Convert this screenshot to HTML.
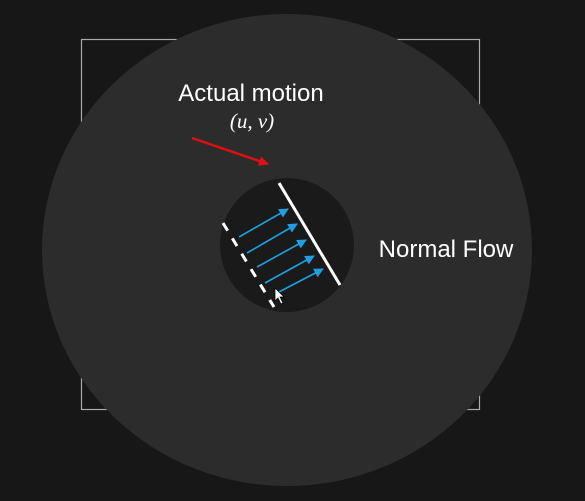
<!DOCTYPE html>
<html><head><meta charset="utf-8"><style>
html,body{margin:0;padding:0;background:#171717;}
svg{display:block;}
</style></head><body>
<svg width="585" height="501" viewBox="0 0 585 501">
<defs>
<marker id="bh" viewBox="0 0 10 10" refX="9" refY="5" markerWidth="7" markerHeight="6" orient="auto" markerUnits="strokeWidth"><path d="M0,0 L10,5 L0,10 z" fill="#1ea0e0"/></marker>
<marker id="rh" viewBox="0 0 10 10" refX="9" refY="5" markerWidth="4" markerHeight="4" orient="auto"><path d="M0,0 L10,5 L0,10 z" fill="#e01010"/></marker>
</defs>
<rect x="0" y="0" width="585" height="501" fill="#171717"/>
<rect x="81.5" y="39.5" width="398" height="370" fill="none" stroke="#aaaaaa" stroke-width="1.2"/>
<ellipse cx="287" cy="250" rx="245" ry="236" fill="#2c2c2c"/>
<circle cx="287" cy="245" r="67" fill="#1a1a1a"/>
<line x1="279" y1="183" x2="340" y2="285" stroke="#fff" stroke-width="3"/>
<line x1="223" y1="223" x2="274" y2="307" stroke="#fff" stroke-width="3" stroke-dasharray="9,9"/>
<g id="arrows"></g>
<line x1="192" y1="138" x2="268" y2="164" stroke="#e01010" stroke-width="2.5" marker-end="url(#rh)"/>
<path d="M275,288 L275,301 L278,298 L281,304 L283,303 L280,297 L284,297 Z" fill="#fff" stroke="#000" stroke-width="0.7"/>
<text x="251" y="101" fill="#fff" font-family="Liberation Sans, sans-serif" font-size="24" text-anchor="middle">Actual motion</text>
<text x="252" y="128" fill="#fff" font-family="Liberation Serif, serif" font-style="italic" font-size="21" text-anchor="middle">(u, v)</text>
<text x="446" y="257" fill="#fff" font-family="Liberation Sans, sans-serif" font-size="24" text-anchor="middle">Normal Flow</text>
</svg>
<script>
const arrowStartsX=[239,247,257,265,277];
const arrowStartsY=[237,253,267,283,293];
const arrowEndsX=[288,297,306,314,323];
const arrowEndsY=[209,224,240,256,269];
const g=document.getElementById('arrows');
for(let i=0;i<arrowStartsX.length;i++){
 const l=document.createElementNS('http://www.w3.org/2000/svg','line');
 l.setAttribute('x1',arrowStartsX[i]);l.setAttribute('y1',arrowStartsY[i]);
 l.setAttribute('x2',arrowEndsX[i]);l.setAttribute('y2',arrowEndsY[i]);
 l.setAttribute('stroke','#1ea0e0');l.setAttribute('stroke-width','1.6');
 l.setAttribute('marker-end','url(#bh)');
 
 
 g.appendChild(l);
}
</script>
</body></html>
